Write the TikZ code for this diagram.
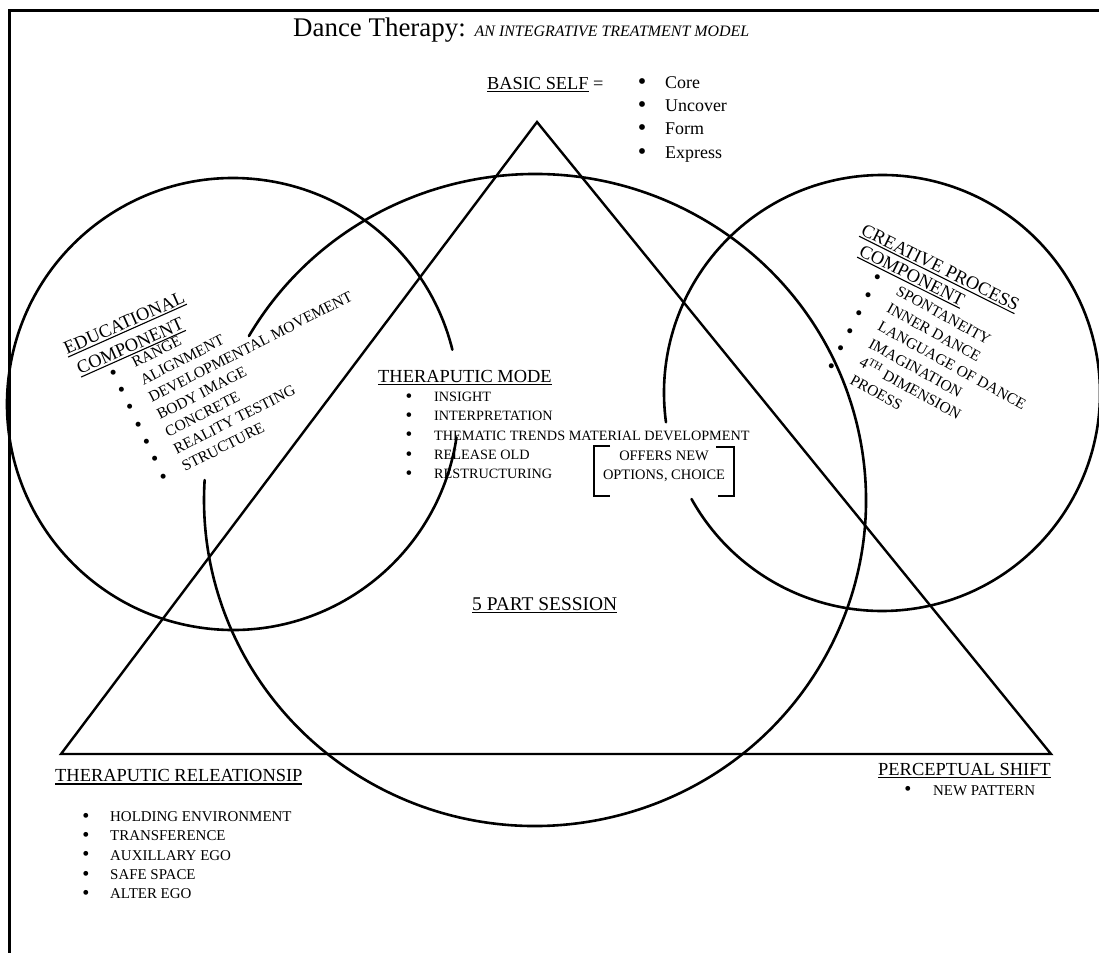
\documentclass[tikz,border=0pt]{standalone}
\usepackage{fontspec}
\setmainfont{Liberation Serif}
\newcommand\ulx[1]{\vtop{\hbox{#1}\kern1.6pt\hrule height 1.1pt}}
\newcommand\bul{\raisebox{-0.06em}{\scalebox{1.35}{•}}}
\begin{document}
\begin{tikzpicture}[x=1bp,y=-1bp,
  ring/.style={line width=2.6bp,line cap=round},
  tri/.style={line width=2.4bp,line join=miter},
  frame/.style={line width=3bp,line join=miter},
  brk/.style={line width=1.5bp},
  head/.style={inner sep=0pt,font=\fontsize{18.5}{22}\selectfont},
  item/.style={inner sep=0pt,font=\fontsize{15}{19}\selectfont},
  itemb/.style={inner sep=0pt,font=\fontsize{18}{23}\selectfont}]
\useasboundingbox (0,0) rectangle (1099,953);
% frame
\draw[frame] (1099,10) -- (9.5,10) -- (9.5,953);
% triangle
\coordinate (apex) at (537,122);
\coordinate (bl) at (61,754);
\coordinate (br) at (1051,754);
\draw[tri] (apex) -- (br) -- (bl) -- cycle;
% circles
\coordinate (cl) at (233,404);
\coordinate (cc) at (535,500);
\coordinate (cr) at (882,393);
\draw[ring] (cl) ++(8.5:226) arc[start angle=8.5,end angle=346.1,radius=226];
\draw[ring] (cc) ++(210.2:331 and 326) arc[start angle=210.2,end angle=543.5,x radius=331,y radius=326];
\draw[ring] (cr) ++(172.3:218) arc[start angle=172.3,end angle=510.9,radius=218];
% title
\node[anchor=base west,inner sep=0pt] (title) at (293,36)
  {\fontsize{27}{30}\selectfont Dance Therapy: \fontsize{16}{18}\selectfont\itshape AN INTEGRATIVE TREATMENT MODEL};
% basic self
\node[head,anchor=base west,font=\fontsize{18.4}{22}\selectfont] (bs) at (487,89) {\ulx{BASIC SELF} =};
\foreach \t [count=\i] in {Core,Uncover,Form,Express}{
  \node[itemb,anchor=base] (bsb\i) at (642,{88.3+23.3*(\i-1)}) {\bul};
  \node[itemb,anchor=base west] (bst\i) at (665,{88.3+23.3*(\i-1)}) {\t};
}
% educational component
\node[head,rotate=24,anchor=base west] (edu1) at (67,355) {\ulx{EDUCATIONAL}};
\node[head,rotate=24,anchor=base west] (edu2) at (80,375) {\ulx{COMPONENT}};
\foreach \t [count=\i] in {RANGE,ALIGNMENT,DEVELOPMENTAL MOVEMENT,BODY IMAGE,CONCRETE,REALITY TESTING,STRUCTURE}{
  \node[item,font=\fontsize{15.5}{19}\selectfont,rotate=27,anchor=base west] (ed\i)
    at ({135+8.33*(\i-1)},{368+17.33*(\i-1)}) {\llap{\bul\hspace{18bp}}\t};
}
% creative process component
\node[head,rotate=-26.5,anchor=base west] (cp1) at (860,234) {\ulx{CREATIVE PROCESS}};
\node[head,rotate=-26.5,anchor=base west] (cp2) at (858,255) {\ulx{COMPONENT}};
\foreach \t [count=\i] in {SPONTANEITY,INNER DANCE,LANGUAGE OF DANCE,IMAGINATION,4\textsuperscript{TH} DIMENSION,PROESS}{
  \node[item,font=\fontsize{15.5}{19}\selectfont,rotate=-29,anchor=base west] (cr\i)
    at ({895-9.2*(\i-1)},{294+17.8*(\i-1)}) {\llap{\bul\hspace{20bp}}\t};
}
% therapeutic mode
\node[head,anchor=base west] (tm) at (378,382) {\ulx{THERAPUTIC MODE}};
\foreach \t [count=\i] in {INSIGHT,INTERPRETATION,THEMATIC TRENDS MATERIAL DEVELOPMENT,RELEASE OLD,RESTRUCTURING}{
  \node[item,font=\fontsize{14.3}{19}\selectfont,anchor=base] (tmb\i) at (409,{401.7+19.15*(\i-1)}) {\bul};
  \node[item,font=\fontsize{14.3}{19}\selectfont,anchor=base west] (tmt\i) at (434,{401.7+19.15*(\i-1)}) {\t};
}
% offers box
\node[font=\fontsize{14.5}{19}\selectfont,align=center,inner sep=0pt] (offers) at (664,466) {OFFERS NEW\\OPTIONS, CHOICE};
\draw[brk] ([shift={(-54,-20)}]offers.center) -- ++(-16,0) -- ++(0,50) -- ++(16,0);
\draw[brk] ([shift={(52,-19)}]offers.center) -- ++(18,0) -- ++(0,49) -- ++(-16,0);
% 5 part session
\node[anchor=base west,inner sep=0pt,font=\fontsize{19.5}{22}\selectfont] (five) at (472,610) {\ulx{5 PART SESSION}};
% therapeutic relationship
\node[head,anchor=base west] (tr) at (55,781.7) {\ulx{THERAPUTIC RELEATIONSIP}};
\foreach \t [count=\i] in {HOLDING ENVIRONMENT,TRANSFERENCE,AUXILLARY EGO,SAFE SPACE,ALTER EGO}{
  \node[item,anchor=base] (trb\i) at (86,{821.7+19.15*(\i-1)}) {\bul};
  \node[item,anchor=base west] (trt\i) at (110,{821.7+19.15*(\i-1)}) {\t};
}
% perceptual shift
\node[head,anchor=base west] (ps) at (878,775) {\ulx{PERCEPTUAL SHIFT}};
\node[item,anchor=base] (psb) at (908,795) {\bul};
\node[item,anchor=base west] (pst) at (933,795) {NEW PATTERN};
\end{tikzpicture}
\end{document}
